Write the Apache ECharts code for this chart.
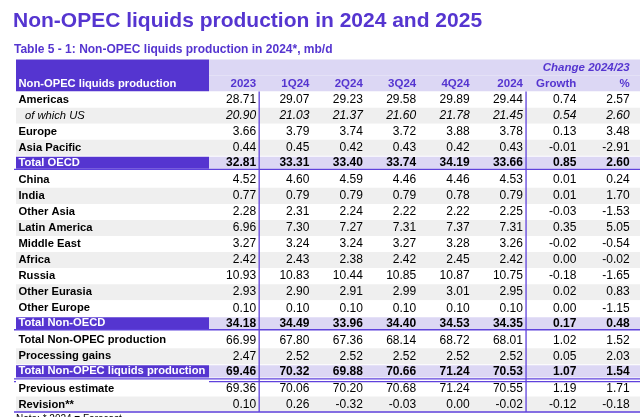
<!DOCTYPE html>
<html><head><meta charset="utf-8">
<script src="https://cdn.jsdelivr.net/npm/echarts@6/dist/echarts.min.js"></script>
<style>html,body{margin:0;padding:0;background:#fff}#c{width:640px;height:417px}</style>
</head><body><div id="c"></div>
<script>
// ---------- DATA ----------
const titleText = 'Non-OPEC liquids production in 2024 and 2025';
const subtitleText = 'Table 5 - 1: Non-OPEC liquids production in 2024*, mb/d';
const noteText = 'Note: * 2024 = Forecast';
const stubHeader = 'Non-OPEC liquids production';
const groupHeader = 'Change 2024/23';
const columns = ['2023', '1Q24', '2Q24', '3Q24', '4Q24', '2024', 'Growth', '%'];
const rows = ['Americas', 'of which US', 'Europe', 'Asia Pacific', 'Total OECD', 'China', 'India',
  'Other Asia', 'Latin America', 'Middle East', 'Africa', 'Russia', 'Other Eurasia', 'Other Europe',
  'Total Non-OECD', 'Total Non-OPEC production', 'Processing gains', 'Total Non-OPEC liquids production',
  'Previous estimate', 'Revision**'];
const totalRows = ['Total OECD', 'Total Non-OECD', 'Total Non-OPEC liquids production'];
const italicRows = ['of which US'];
const v2023 = [28.71, 20.90, 3.66, 0.44, 32.81, 4.52, 0.77, 2.28, 6.96, 3.27, 2.42, 10.93, 2.93, 0.10, 34.18, 66.99, 2.47, 69.46, 69.36, 0.10];
const v1Q24 = [29.07, 21.03, 3.79, 0.45, 33.31, 4.60, 0.79, 2.31, 7.30, 3.24, 2.43, 10.83, 2.90, 0.10, 34.49, 67.80, 2.52, 70.32, 70.06, 0.26];
const v2Q24 = [29.23, 21.37, 3.74, 0.42, 33.40, 4.59, 0.79, 2.24, 7.27, 3.24, 2.38, 10.44, 2.91, 0.10, 33.96, 67.36, 2.52, 69.88, 70.20, -0.32];
const v3Q24 = [29.58, 21.60, 3.72, 0.43, 33.74, 4.46, 0.79, 2.22, 7.31, 3.27, 2.42, 10.85, 2.99, 0.10, 34.40, 68.14, 2.52, 70.66, 70.68, -0.03];
const v4Q24 = [29.89, 21.78, 3.88, 0.42, 34.19, 4.46, 0.78, 2.22, 7.37, 3.28, 2.45, 10.87, 3.01, 0.10, 34.53, 68.72, 2.52, 71.24, 71.24, 0.00];
const v2024 = [29.44, 21.45, 3.78, 0.43, 33.66, 4.53, 0.79, 2.25, 7.31, 3.26, 2.42, 10.75, 2.95, 0.10, 34.35, 68.01, 2.52, 70.53, 70.55, -0.02];
const growth = [0.74, 0.54, 0.13, -0.01, 0.85, 0.01, 0.01, -0.03, 0.35, -0.02, 0.00, -0.18, 0.02, 0.00, 0.17, 1.02, 0.05, 1.07, 1.19, -0.12];
const pct = [2.57, 2.60, 3.48, -2.91, 2.60, 0.24, 1.70, -1.53, 5.05, -0.54, -0.02, -1.65, 0.83, -1.15, 0.48, 1.52, 2.03, 1.54, 1.71, -0.18];
const ruleAfterColumns = ['2023', '2024'];

// ---------- STYLE ----------
const FONT = '"Liberation Sans", Arial, Helvetica, sans-serif';
const PURPLE = '#5535d0';
const LAV = '#dcd7f4';
const STRIPE = '#efefef';
const LINE = '#5f42dc';
const HDR_ROWS = 2;
const LBL = '11.2px ';

const valueCols = [v2023, v1Q24, v2Q24, v3Q24, v4Q24, v2024, growth, pct];
const yCats = ['hdr0', 'hdr1'].concat(rows);
const isTotal = r => totalRows.includes(rows[r]);
const isItalic = r => italicRows.includes(rows[r]);
function isStripe(r) { let p = 0; for (let i = r - 1; i >= 0 && !isTotal(i); i--) p++; return p % 2 === 1; }

const cellData = [], cellText = [];
valueCols.forEach((arr, c) => arr.forEach((v, r) => { cellData.push([c, r + HDR_ROWS]); cellText.push(v.toFixed(2)); }));
const rowData = yCats.map((_, i) => [0, i]);
const stubData = yCats.map((_, i) => [0, i]).slice(1);
const headData = columns.map((_, i) => [i, 1]);

const chart = echarts.init(document.getElementById('c'), null, { renderer: 'canvas' });

function cell(api, c, r) {
  const p = api.coord([c, r]); const s = api.size([1, 1]);
  return { x0: p[0] - s[0] / 2, y0: p[1] - s[1] / 2, w: s[0], h: s[1], cx: p[0], cy: p[1] };
}

function renderRowBg(params, api) {
  const r = api.value(1);
  const k = cell(api, 0, r);
  const w = api.getWidth() - k.x0;
  let fill = '#fff', y = k.y0, h = k.h;
  if (r < HDR_ROWS) fill = LAV;
  else {
    const ri = r - HDR_ROWS;
    if (isTotal(ri)) { fill = LAV; y = k.y0 + 1; h = k.h - 4; }
    else fill = isStripe(ri) ? STRIPE : '#fff';
  }
  return { type: 'rect', shape: { x: k.x0, y: y, width: w, height: h }, style: { fill: fill } };
}

function renderStub(params, api) {
  const r = api.value(1);
  const k = cell(api, 0, r);
  const children = [];
  if (r === 1) {
    const k0 = cell(api, 0, 0);
    children.push({ type: 'rect', shape: { x: k.x0, y: k0.y0, width: k.w, height: k.y0 + k.h - k0.y0 }, style: { fill: PURPLE } });
    children.push({ type: 'text', style: { text: stubHeader, x: k.x0 + 2.5, y: k.cy, fill: '#fff', font: 'bold ' + LBL + FONT, verticalAlign: 'middle', align: 'left' } });
  } else {
    const ri = r - HDR_ROWS;
    let fill, tcol = '#000';
    let y = k.y0, h = k.h;
    if (isTotal(ri)) { fill = PURPLE; tcol = '#fff'; y = k.y0 + 1; h = k.h - 4; }
    else fill = isStripe(ri) ? STRIPE : '#fff';
    children.push({ type: 'rect', shape: { x: k.x0, y: y, width: k.w, height: h }, style: { fill: fill } });
    const it = isItalic(ri);
    children.push({ type: 'text', style: { text: rows[ri], x: k.x0 + (it ? 9 : 2.5), y: isTotal(ri) ? k.cy - 1 : k.cy, fill: tcol,
      font: (it ? 'italic ' : 'bold ') + LBL + FONT, verticalAlign: 'middle', align: 'left' } });
    const xL = k.x0 - 2, xR = api.getWidth();
    const ln = yy => ({ type: 'line', shape: { x1: xL, y1: yy, x2: xR, y2: yy }, style: { stroke: LINE, lineWidth: 1.3 } });
    if (isTotal(ri)) {
      if (ri === rows.length - 3) { children.push(ln(k.y0 + k.h - 1.5)); children.push(ln(k.y0 + k.h + 1.3)); }
      else children.push(ln(k.y0 + k.h - 2.5));
    }
    if (ri === rows.length - 1) children.push(ln(k.y0 + k.h - 0.5));
  }
  return { type: 'group', children: children };
}

function renderCells(params, api) {
  const c = api.value(0), r = api.value(1);
  const k = cell(api, c, r);
  const ri = r - HDR_ROWS;
  const tot = isTotal(ri), it = isItalic(ri);
  return { type: 'text', style: { text: cellText[params.dataIndex], x: k.x0 + k.w - 6.3, y: tot ? k.cy - 1 : k.cy, fill: '#000',
    font: (tot ? 'bold ' : it ? 'italic ' : '') + '12px ' + FONT, align: 'right', verticalAlign: 'middle' } };
}

function renderHead(params, api) {
  const c = api.value(0);
  const k = cell(api, c, 1);
  const children = [{ type: 'text', style: { text: columns[c], x: k.x0 + k.w - 6.3, y: k.cy, fill: PURPLE,
    font: 'bold 11.5px ' + FONT, align: 'right', verticalAlign: 'middle' } }];
  if (c === columns.length - 1) {
    const k0 = cell(api, c, 0);
    children.push({ type: 'text', style: { text: groupHeader, x: k0.x0 + k0.w - 6.3, y: k0.cy, fill: PURPLE,
      font: 'italic bold 11.5px ' + FONT, align: 'right', verticalAlign: 'middle' } });
  }
  if (ruleAfterColumns.includes(columns[c])) {
    const kt = cell(api, c, HDR_ROWS), kb = cell(api, c, yCats.length - 1);
    const xx = kt.x0 + kt.w - 3.2;
    children.push({ type: 'line', shape: { x1: xx, y1: kt.y0, x2: xx, y2: kb.y0 + kb.h - 0.5 }, style: { stroke: LINE, lineWidth: 1.3 } });
  }
  return { type: 'group', children: children };
}

const gridTop = 59.5, gridH = 353;
chart.setOption({
  animation: false,
  backgroundColor: '#fff',
  graphic: [
    { type: 'text', left: 13, top: 11, style: { text: titleText, fill: PURPLE, font: 'bold 21px ' + FONT } },
    { type: 'text', left: 14, top: 44, style: { text: subtitleText, fill: PURPLE, font: 'bold 12px ' + FONT } },
    { type: 'text', left: 16, top: 414, style: { text: noteText, fill: '#000', font: '10px ' + FONT } }
  ],
  grid: [
    { left: 16, width: 193, top: gridTop, height: gridH },
    { left: 209, right: 4, top: gridTop, height: gridH }
  ],
  xAxis: [
    { gridIndex: 0, type: 'category', data: ['stub'], show: false },
    { gridIndex: 1, type: 'category', data: columns, show: false }
  ],
  yAxis: [
    { gridIndex: 0, type: 'category', data: yCats, inverse: true, show: false },
    { gridIndex: 1, type: 'category', data: yCats, inverse: true, show: false }
  ],
  series: [
    { type: 'custom', name: 'rowBg', xAxisIndex: 1, yAxisIndex: 1, data: rowData, renderItem: renderRowBg, silent: true, z: 1 },
    { type: 'custom', name: 'stub', xAxisIndex: 0, yAxisIndex: 0, data: stubData, renderItem: renderStub, silent: true, z: 2 },
    { type: 'custom', name: 'values', xAxisIndex: 1, yAxisIndex: 1, data: cellData, renderItem: renderCells, silent: true, z: 3 },
    { type: 'custom', name: 'heads', xAxisIndex: 1, yAxisIndex: 1, data: headData, renderItem: renderHead, silent: true, z: 4 }
  ]
});
</script>
</body></html>
